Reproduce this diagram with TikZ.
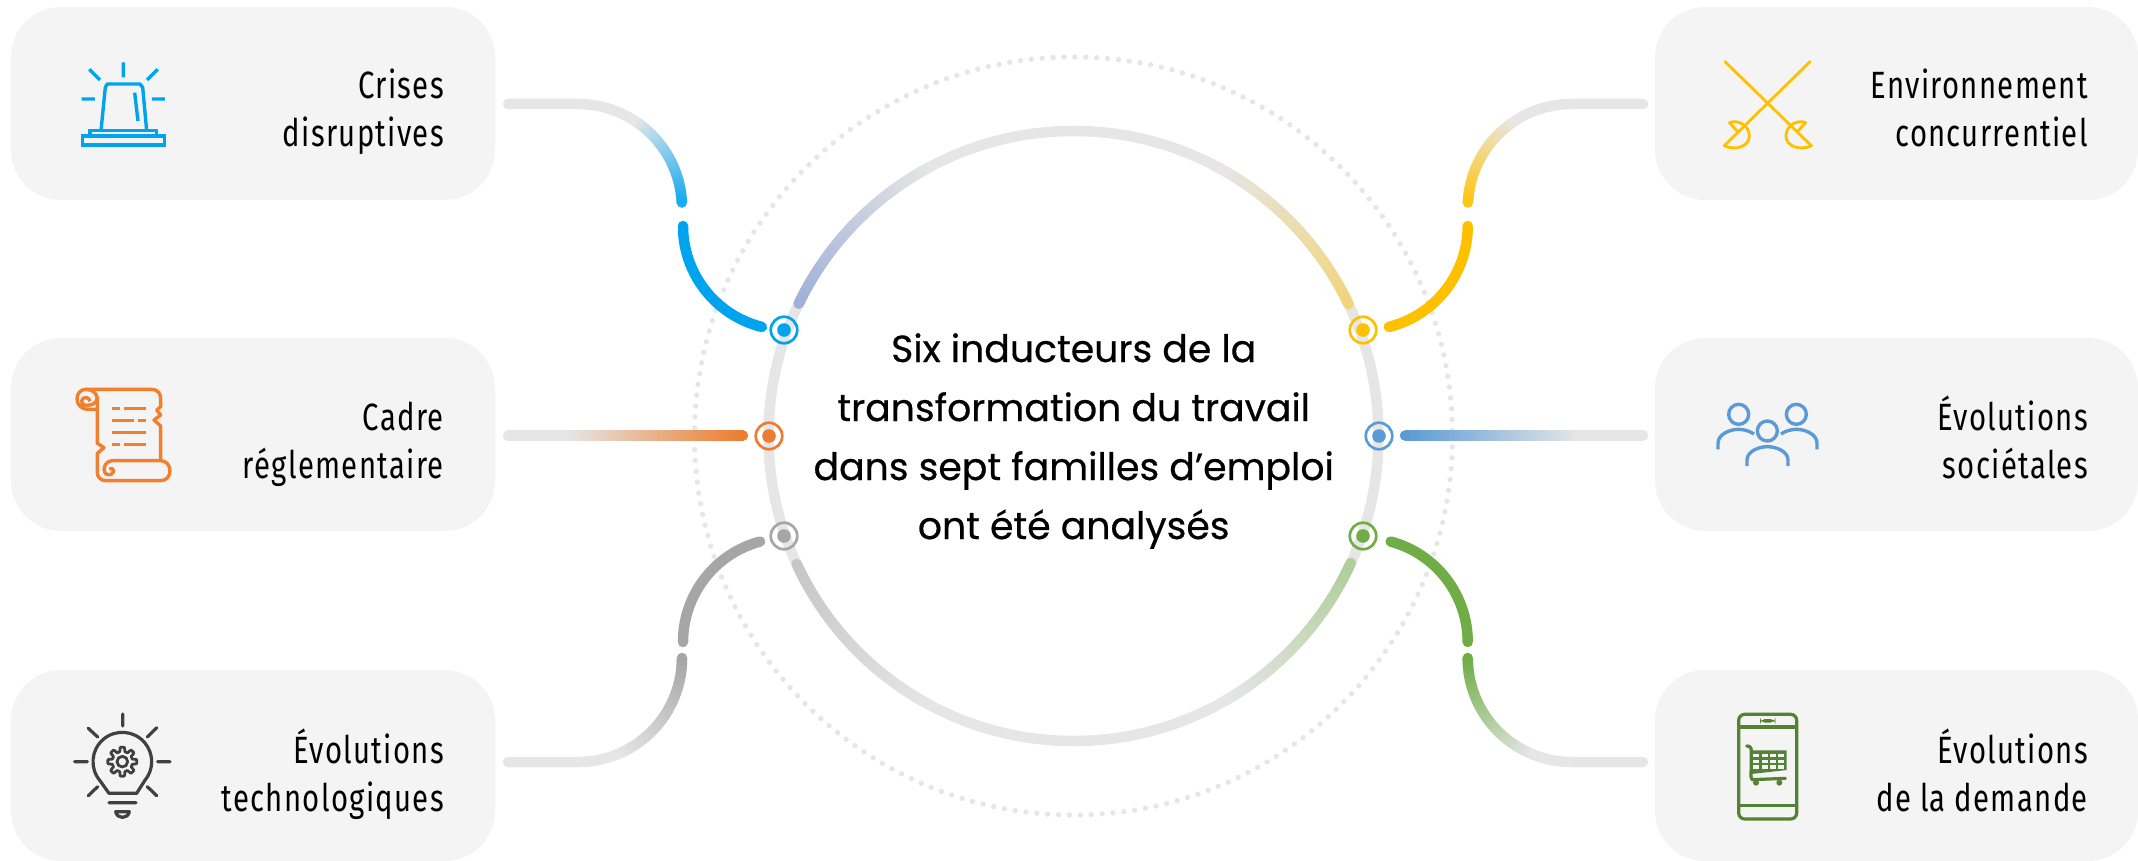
\documentclass[tikz,border=0pt]{standalone}
\usepackage{fontspec}
\setmainfont{Fira Sans}
\newfontfamily\labelfont[FakeStretch=0.77,LetterSpace=3.5]{Fira Sans}
\newfontfamily\titlefont[FakeBold=0.5]{Poppins}
\definecolor{rail}{HTML}{E6E6E6}
\definecolor{boxgrey}{HTML}{F4F4F4}
\definecolor{cblue}{HTML}{00A3EE}
\definecolor{corange}{HTML}{ED7D31}
\definecolor{cgrey}{HTML}{A6A6A6}
\definecolor{cyellow}{HTML}{FFC000}
\definecolor{csky}{HTML}{5B9BD5}
\definecolor{cgreen}{HTML}{70AD47}
\definecolor{iconorange}{HTML}{F08030}
\definecolor{icondark}{HTML}{404040}
\definecolor{icongreen}{HTML}{548235}
\definecolor{ringblue}{HTML}{A0B0D8}
\definecolor{ringyellow}{HTML}{F1D57C}
\definecolor{ringgrey}{HTML}{C6C6C6}
\definecolor{ringgreen}{HTML}{AFCE9A}
% gradient arc: centre, radius, a0, a1, colour at a0, colour at a1, width
\newcommand{\gradarc}[7]{%
  \pgfmathsetmacro{\gradstep}{(#4-#3)/48}%
  \pgfmathsetmacro{\gradover}{(#4-#3)/48*1.5}%
  \foreach \gi in {0,...,47}{%
    \pgfmathsetmacro{\gradmix}{100-\gi/47*100}%
    \colorlet{gradtmp}{#5!\gradmix!#6}%
    \pgfmathsetmacro{\gradA}{#3+\gi*\gradstep}%
    \pgfmathsetmacro{\gradB}{\gradA+\gradover}%
    \draw[color=gradtmp,line width=#7,line cap=butt]
      ([shift={(\gradA:#2)}]#1) arc[start angle=\gradA,end angle=\gradB,radius=#2];
  }%
}
\newcommand{\gradline}[5]{%
  \foreach \gi in {0,...,59}{%
    \pgfmathsetmacro{\gradmix}{100-\gi/59*100}%
    \colorlet{gradtmp}{#3!\gradmix!#4}%
    \pgfmathsetmacro{\gradA}{#1+(#2-#1)*\gi/60}%
    \pgfmathsetmacro{\gradB}{#1+(#2-#1)*(\gi+1.5)/60}%
    \draw[color=gradtmp,line width=10.5,line cap=butt] (\gradA,#5) -- (\gradB,#5);
  }%
}
\newcommand{\lblstrut}{\vphantom{Ép}}
\tikzset{
  x=1pt,y=-1pt,
  cardbox/.style={fill=boxgrey,draw=none,rounded corners=50},
  lbl/.style={anchor=east,align=right,text=black,font=\labelfont\fontsize{38}{48}\selectfont,inner sep=0},
  wire/.style={line width=10.5,line cap=round},
  ringstyle/.style={line width=10.5,draw=rail},
  iconline/.style={line width=3.4,line cap=butt,line join=miter},
  iconround/.style={line width=3.2,line cap=round,line join=round},
}
\newcommand{\hub}[2]{%
  \node[circle,draw=#2,line width=2.7,minimum size=26.5,inner sep=0] (#1) {};
  \fill[#2] (#1.center) circle[radius=6.8];
}
\begin{document}
\begin{tikzpicture}
\useasboundingbox (0,0) rectangle (2138,861);
% cards
\path[cardbox] (11,7) rectangle (495,200);
\path[cardbox] (11,338) rectangle (495,531);
\path[cardbox] (11,670) rectangle (495,861);
\path[cardbox] (1655,7) rectangle (2138,200);
\path[cardbox] (1655,338) rectangle (2138,531);
\path[cardbox] (1655,670) rectangle (2138,861);
% centres
\coordinate (ctr) at (1073.5,436);
\coordinate (tlA) at (578,208);
\coordinate (tlB) at (787,226);
\coordinate (trA) at (1571.7,208);
\coordinate (trB) at (1363.7,226);
\coordinate (blA) at (578,658);
\coordinate (blB) at (787,642);
\coordinate (brA) at (1571.7,658);
\coordinate (brB) at (1363.7,642);
% rings
\draw[rail,line width=5.4,line cap=round,dash pattern=on 0pt off 10.9pt] (ctr) circle[radius=379];
\draw[ringstyle] (ctr) circle[radius=305];
\gradarc{ctr}{305}{205.7}{242}{ringblue}{rail}{10.5}
\fill[ringblue] (ctr) ++(205.7:305) circle[radius=5.25];
\gradarc{ctr}{305}{-25.6}{-62}{ringyellow}{rail}{10.5}
\fill[ringyellow] (ctr) ++(-25.6:305) circle[radius=5.25];
\gradarc{ctr}{305}{155.2}{118}{ringgrey}{rail}{10.5}
\fill[ringgrey] (ctr) ++(155.2:305) circle[radius=5.25];
\gradarc{ctr}{305}{24.6}{60}{ringgreen}{rail}{10.5}
\fill[ringgreen] (ctr) ++(24.6:305) circle[radius=5.25];
% hubs
\begin{scope}[shift={(784,330)}]\hub{hubTL}{cblue}\end{scope}
\begin{scope}[shift={(769,436)}]\hub{hubML}{corange}\end{scope}
\begin{scope}[shift={(784,536)}]\hub{hubBL}{cgrey}\end{scope}
\begin{scope}[shift={(1363,330)}]\hub{hubTR}{cyellow}\end{scope}
\begin{scope}[shift={(1379,436)}]\hub{hubMR}{csky}\end{scope}
\begin{scope}[shift={(1363,536)}]\hub{hubBR}{cgreen}\end{scope}
% top-left connector
\draw[wire,rail] (508,104) -- (tlA |- 0,104) arc[start angle=-90,end angle=-58,radius=104];
\gradarc{tlA}{104}{-58}{-3}{rail}{cblue!92!white}{10.5}
\fill[cblue!90!white] (tlA) ++(-3:104) circle[radius=5.25];
\draw[wire,cblue] ([shift={(180:104)}]tlB) arc[start angle=180,end angle=104,radius=104];
% top-right connector
\draw[wire,rail] (1643,104) -- (trA |- 0,104) arc[start angle=-90,end angle=-122,radius=104];
\gradarc{trA}{104}{-122}{-177}{rail}{cyellow!92!white}{10.5}
\fill[cyellow!90!white] (trA) ++(-177:104) circle[radius=5.25];
\draw[wire,cyellow] ([shift={(0:104)}]trB) arc[start angle=0,end angle=76,radius=104];
% bottom-left connector
\draw[wire,cgrey] ([shift={(180:104)}]blB) arc[start angle=180,end angle=255,radius=104];
\fill[cgrey] (blA) ++(0:104) circle[radius=5.25];
\gradarc{blA}{104}{0}{68}{cgrey}{rail}{10.5}
\draw[wire,rail] (508,762) -- (blA |- 0,762) arc[start angle=90,end angle=68,radius=104];
% bottom-right connector
\draw[wire,cgreen] ([shift={(0:104)}]brB) arc[start angle=0,end angle=-75,radius=104];
\fill[cgreen] (brA) ++(180:104) circle[radius=5.25];
\gradarc{brA}{104}{180}{112}{cgreen}{rail}{10.5}
\draw[wire,rail] (1643,762) -- (brA |- 0,762) arc[start angle=90,end angle=112,radius=104];
% straight connectors
\draw[wire,rail] (508,435.5) -- (570,435.5);
\gradline{565}{743}{rail}{corange}{435.5}
\fill[corange] (743,435.5) circle[radius=5.25];
\draw[wire,rail] (1643,435.5) -- (1575,435.5);
\gradline{1405}{1580}{csky}{rail}{435.5}
\fill[csky] (1405,435.5) circle[radius=5.25];
% centre title
\node[align=center,text=black,inner sep=0,font=\titlefont\fontsize{37.8}{59}\selectfont] (title) at (1073.7,441)
  {Six inducteurs de la\\transformation du travail\\dans sept familles d’emploi\\ont été analysés};
% labels
\node[lbl] (l1) at (444,109.5) {\lblstrut Crises\\\lblstrut disruptives};
\node[lbl] (l2) at (444,441.5) {\lblstrut Cadre\\\lblstrut réglementaire};
\node[lbl] (l3) at (444,774) {\lblstrut Évolutions\\\lblstrut technologiques};
\node[lbl] (l4) at (2088,109.5) {\lblstrut Environnement\\\lblstrut concurrentiel};
\node[lbl] (l5) at (2088,441.5) {\lblstrut Évolutions\\\lblstrut sociétales};
\node[lbl] (l6) at (2088,774) {\lblstrut Évolutions\\\lblstrut de la demande};
% siren icon
\begin{scope}[shift={(0,0)},scale=1/3,cblue]
\draw[iconline] (370,187)--(370,232) (268,208)--(300,240) (473,208)--(441,240)
  (245,297)--(285,297) (456,297)--(495,297) (404,278)--(414,363);
\draw[iconline,line join=round] (303,392)--(316,262)--(322,252)--(420,252)--(428,262)--(440,392);
\draw[iconline] (248,435)--(248,408)--(270,408)--(270,392)--(470,392)--(470,408)--(493,408)--(493,435)--cycle;
\draw[iconline] (270,408)--(470,408);
\end{scope}
% scroll icon
\begin{scope}[shift={(0,330)},scale=1/3,iconorange]
\draw[iconline,line join=round]
  (258,178)--(455,178) .. controls (472,178) and (482,190) .. (482,205)--(482,230)--(470,240)--(482,255)--(462,270)--(482,288)--(482,392);
\draw[iconline,line join=round]
  (292,200)--(292,340)--(312,353)--(292,370)--(292,428) .. controls (292,442) and (303,452) .. (318,452)
  --(482,452) .. controls (500,452) and (510,438) .. (510,422) .. controls (510,405) and (498,392) .. (482,392)--(338,392)
  .. controls (322,392) and (312,405) .. (312,420) .. controls (312,436) and (335,440) .. (340,426)
  .. controls (343,418) and (334,412) .. (328,418);
\draw[iconline,line join=round]
  (270,214) .. controls (268,204) and (258,200) .. (250,205) .. controls (240,212) and (246,228) .. (262,226)
  .. controls (275,225) and (288,222) .. (292,205) .. controls (290,188) and (275,178) .. (258,178)
  .. controls (240,178) and (231,192) .. (231,207) .. controls (231,224) and (245,238) .. (262,238)--(292,238);
\draw[iconline] (336,236)--(360,236) (372,236)--(438,236) (336,272)--(402,272) (414,272)--(438,272)
  (336,308)--(438,308) (336,344)--(360,344) (372,344)--(438,344);
\end{scope}
% bulb icon
\begin{scope}[shift={(0,660)},scale=1/3,icondark]
\draw[iconround] (368,162)--(368,198) (265,205)--(293,231) (470,203)--(442,231) (224,305)--(262,305)
  (473,305)--(510,305) (265,407)--(293,380) (470,407)--(442,380) (327,428)--(408,428);
\draw[iconround] (327,400)--(300,362) arc[start angle=139.6,end angle=400.4,radius=88] --(410,400)--cycle;
\draw[iconround] (347,455)--(388,455) .. controls (384,478) and (351,478) .. (347,455) -- cycle;
\draw[iconround,line width=2.8] plot[samples=145,domain=0:360,smooth] ({367+(37+6.5*max(-1,min(1,2.5*cos(8*\x))))*cos(\x)},{305+(37+6.5*max(-1,min(1,2.5*cos(8*\x))))*sin(\x)});
\draw[iconround,line width=2.8] (367,305) circle[radius=16];
\end{scope}
% swords icon
\begin{scope}[shift={(1650,0)},scale=1/3,cyellow]
\draw[iconround,line width=2.8] (225,185)--(485,438) (480,185)--(222,438);
\draw[iconround,line width=2.8] (238,368) .. controls (262,358) and (298,375) .. (298,408) .. controls (298,440) and (255,452) .. (224,438) (238,368)--(262,394);
\draw[iconround,line width=2.8] (467,368) .. controls (443,358) and (408,375) .. (408,408) .. controls (408,440) and (450,452) .. (483,438) (467,368)--(443,394);
\end{scope}
% people icon
\begin{scope}[shift={(1650,330)},scale=1/3,csky]
\draw[iconline] (266,253) circle[radius=30] (439,253) circle[radius=30] (352,303) circle[radius=30];
\draw[iconline] (204,358)--(204,340) .. controls (204,312) and (240,298) .. (266,298) .. controls (282,298) and (298,303) .. (312,312);
\draw[iconline] (501,358)--(501,340) .. controls (501,312) and (465,298) .. (439,298) .. controls (423,298) and (407,303) .. (393,312);
\draw[iconline] (291,408)--(291,390) .. controls (291,365) and (325,350) .. (352,350) .. controls (380,350) and (414,365) .. (414,390)--(414,408);
\end{scope}
% phone-and-cart icon
\begin{scope}[shift={(1650,660)},scale=1/3,icongreen]
\draw[iconline,line width=3.2,rounded corners=6] (266,163) rectangle (440,477);
\draw[iconline,line width=3.2] (266,201)--(440,201) (266,437)--(440,437);
\fill[rounded corners=5] (330,177) rectangle (376,188);
\draw[iconround] (290,258) .. controls (300,258) and (303,262) .. (304,272)--(303,350)--(306,359)--(406,355);
\fill (304,271)--(410,271)--(410,330)--(304,342)--cycle;
\foreach \cx in {310,335,360,385}{\foreach \cy in {282,299,316}{
  \fill[boxgrey] (\cx,\cy) rectangle ++(18,10);}}
\fill (318,368) circle[radius=9] (388,368) circle[radius=9];
\end{scope}
\end{tikzpicture}
\end{document}
